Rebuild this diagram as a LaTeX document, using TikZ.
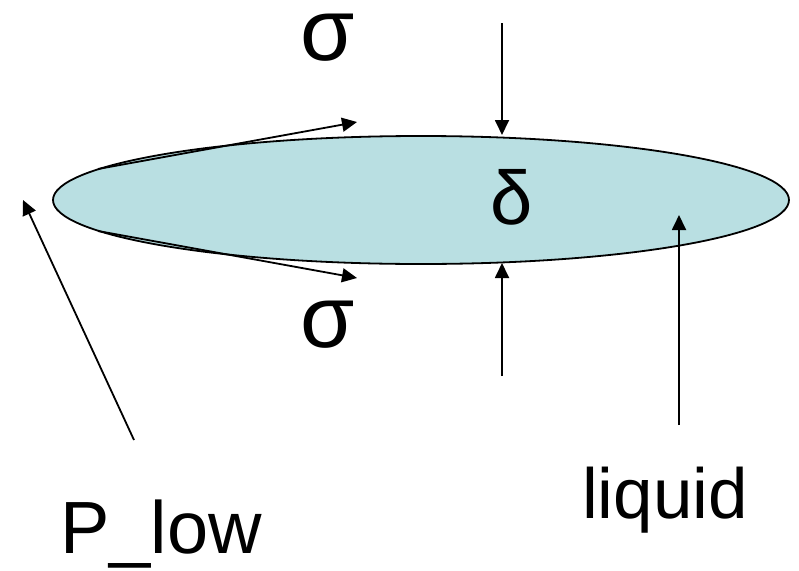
\documentclass[tikz,border=0pt]{standalone}
\usepackage{fontspec}
\setmainfont{Liberation Sans}
\usetikzlibrary{arrows.meta}
\definecolor{FilmFill}{HTML}{B9DFE2}
\definecolor{FilmLine}{HTML}{000000}
\newcommand{\lblsize}[1]{\fontsize{#1}{#1}\selectfont}

\begin{document}
\begin{tikzpicture}[x=1pt,y=-1pt,line width=1.8pt,
    >={Triangle[length=15pt,width=14pt]},
    lbl/.style={inner sep=0pt,text=FilmLine}]
    \useasboundingbox (0,0) rectangle (799,570);
    \filldraw[fill=FilmFill,draw=FilmLine] (421,200) ellipse (368 and 64);

    % end points of the arrows
    \coordinate (topfrom) at (98,169);
    \coordinate (topto) at (357,122);
    \coordinate (botfrom) at (98,231);
    \coordinate (botto) at (357,278);
    \coordinate (pushtop) at (502,23);
    \coordinate (filmtop) at (502,135);
    \coordinate (pushbot) at (502,376);
    \coordinate (filmbot) at (502,263);
    \coordinate (liqfoot) at (679,425);
    \coordinate (liqtip) at (679,215);
    \coordinate (lowfoot) at (134,440);
    \coordinate (lowtip) at (23,200);

    \draw[->] (topfrom) -- (topto);
    \draw[->] (botfrom) -- (botto);
    \draw[->] (pushtop) -- (filmtop);
    \draw[->] (pushbot) -- (filmbot);
    \draw[->] (liqfoot) -- (liqtip);
    \draw[->] (lowfoot) -- (lowtip);

    \node[lbl] (sigtop) at (328,38) {\lblsize{88}σ};
    \node[lbl] (sigbot) at (328,325) {\lblsize{88}σ};
    \node[lbl] (delta) at (512,197) {\lblsize{76}δ};
    \node[lbl,anchor=base] (liquid) at (665,518) {\lblsize{71}liquid};
    \node[lbl,anchor=base] (plow) at (161,553) {\lblsize{74}P\_low};
  \end{tikzpicture}
\end{document}
